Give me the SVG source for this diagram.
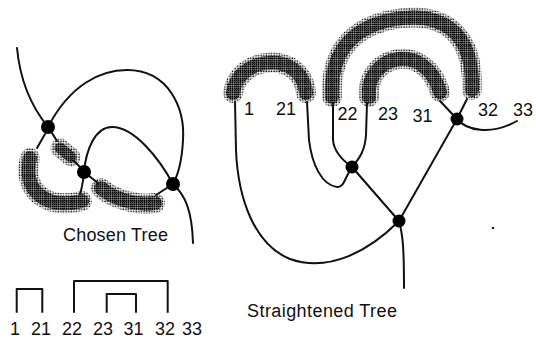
<svg xmlns="http://www.w3.org/2000/svg" width="536" height="341" viewBox="0 0 536 341">
<style>
.ln{fill:none;stroke:#111;stroke-width:2;stroke-linecap:round;stroke-linejoin:round}
.nd{fill:#000}
.bo{fill:none;stroke:url(#sparse);stroke-width:20;stroke-linecap:round}
.bi{fill:none;stroke:url(#dense);stroke-width:14;stroke-linecap:round}
.t{font-family:"Liberation Sans",Arial,sans-serif;font-size:18px;fill:#111}
.m{text-anchor:middle}
</style>
<defs>
<pattern id="sparse" width="2.6" height="2.6" patternUnits="userSpaceOnUse"><rect x="0.4" y="0.4" width="1.5" height="1.5" fill="#000"/></pattern>
<pattern id="dense" width="2" height="2" patternUnits="userSpaceOnUse"><rect width="1.6" height="1.6" fill="#000"/></pattern>
</defs>
<rect width="536" height="341" fill="#fff"/>

<g id="chosen-tree">
  <g id="blobs-left">
    <path class="bo" d="M30 158 C22 190 45 210 82 201"/>
    <path class="bi" d="M30 158 C22 190 45 210 82 201"/>
    <path class="bo" d="M60 148 L71 157" style="stroke-width:19"/>
    <path class="bi" d="M60 148 L71 157" style="stroke-width:11"/>
    <path class="bo" d="M101 188 C112 198 135 206 155 203"/>
    <path class="bi" d="M101 188 C112 198 135 206 155 203"/>
  </g>
  <g id="connectors-left">
    <path class="ln" d="M17 48 C20 80 30 105 48 127"/>
    <path class="ln" d="M48 127 C70 85 100 70 127 70 C170 70 185 110 183 140 C182 160 178 175 173 184"/>
    <path class="ln" d="M84 172 C86 150 95 127 112 127 C135 127 160 160 173 184"/>
    <path class="ln" d="M45 134 L37 148"/>
    <path class="ln" d="M52 133 L57 141"/>
    <path class="ln" d="M80 167 L74 161"/>
    <path class="ln" d="M84 172 C83 182 82 188 80 194"/>
    <path class="ln" d="M84 172 L98 183"/>
    <path class="ln" d="M156 195 L173 184"/>
    <path class="ln" d="M173 184 C185 195 192 210 193 243"/>
  </g>
  <g id="node-a"><circle class="nd" cx="48" cy="127" r="7"/></g>
  <g id="node-b"><circle class="nd" cx="84" cy="172" r="7"/></g>
  <g id="node-c"><circle class="nd" cx="173" cy="184" r="7"/></g>
  <text class="t" x="63" y="241" textLength="105" lengthAdjust="spacing">Chosen Tree</text>
</g>

<g id="straightened-tree">
  <g id="blobs-right">
    <path class="bo" d="M233 93 C238 55 302 50 306 93"/>
    <path class="bi" d="M233 93 C238 55 302 50 306 93"/>
    <path class="bo" d="M332 97 C330 60 345 30 390 20 C440 10 474 30 472 90"/>
    <path class="bi" d="M332 97 C330 60 345 30 390 20 C440 10 474 30 472 90"/>
    <path class="bo" d="M369 97 C365 55 425 40 440 92"/>
    <path class="bi" d="M369 97 C365 55 425 40 440 92"/>
  </g>
  <g id="connectors-right">
    <path class="ln" d="M235 102 L236 150 C238 200 255 245 290 259 C330 273 370 250 399 221"/>
    <path class="ln" d="M399 221 C403 235 404 250 404 288"/>
    <path class="ln" d="M399 221 L457 119"/>
    <path class="ln" d="M352 167 L399 221"/>
    <path class="ln" d="M307 102 L309 140 C312 165 322 185 337 187 C344 188 345 177 352 167"/>
    <path class="ln" d="M333 103 L333 140 C334 152 342 160 352 167"/>
    <path class="ln" d="M367 103 L366 135 C365 150 360 158 352 167"/>
    <path class="ln" d="M440 101 L457 119"/>
    <path class="ln" d="M457 119 L467 99"/>
    <path class="ln" d="M457 119 C466 130 490 136 517 121"/>
  </g>
  <g id="node-d"><circle class="nd" cx="457" cy="119" r="6.5"/></g>
  <g id="node-e"><circle class="nd" cx="352" cy="167" r="6.5"/></g>
  <g id="node-f"><circle class="nd" cx="399" cy="221" r="6.5"/></g>
  <g id="labels-right" class="t m">
    <text x="249" y="115">1</text>
    <text x="286" y="115">21</text>
    <text x="347.5" y="120">22</text>
    <text x="388" y="120">23</text>
    <text x="422.5" y="122">31</text>
    <text x="488" y="116">32</text>
    <text x="523" y="116">33</text>
  </g>
  <circle cx="493" cy="228" r="1.3" fill="#222"/>
  <text class="t" x="247" y="317" textLength="150" lengthAdjust="spacing">Straightened Tree</text>
</g>

<g id="bracket-diagram">
  <g id="brackets">
    <path class="ln" style="stroke-linecap:butt" d="M16.7 312.7 V289 H42.3 V312.7"/>
    <path class="ln" style="stroke-linecap:butt" d="M74 312.7 V281 H167.7 V312.7"/>
    <path class="ln" style="stroke-linecap:butt" d="M106.7 312.7 V294 H136 V312.7"/>
  </g>
  <g id="labels-bottom" class="t m">
    <text x="15" y="335">1</text>
    <text x="41" y="335">21</text>
    <text x="72" y="335">22</text>
    <text x="103" y="335">23</text>
    <text x="133.5" y="335">31</text>
    <text x="165" y="335">32</text>
    <text x="192" y="335">33</text>
  </g>
</g>
</svg>
